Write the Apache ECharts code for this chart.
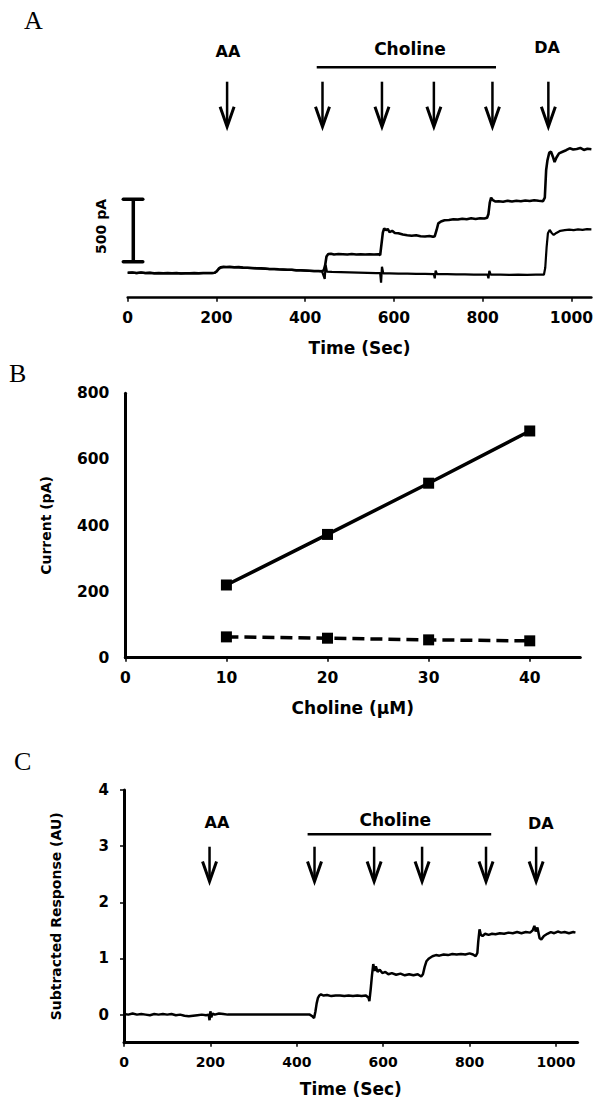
<!DOCTYPE html>
<html><head><meta charset="utf-8">
<script src="https://cdn.jsdelivr.net/npm/echarts@6/dist/echarts.min.js"></script>
<style>html,body{margin:0;padding:0;background:#fff}#c{width:596px;height:1100px}</style>
</head><body><div id="c"></div>
<script>
// ---------- Panel A: amperometric traces (time in s, current in pA above baseline)
const aCholineSite = [[0,0],[10,2],[20,-2],[30,1],[40,-3],[50,0],[60,-4],[70,-2],[80,-5],[90,-3],[100,-4],[110,-2],[120,-6],[130,-4],[140,-5],[150,-3],[160,-4],[170,-2],[180,-3],[190,-2],[196,-1],[200,10],[205,32],[210,44],[216,48],[222,46],[230,47],[240,44],[250,45],[260,41],[270,40],[280,38],[290,36],[300,35],[310,33],[320,30],[330,30],[340,27],[350,26],[360,24],[370,23],[380,20],[390,19],[400,18],[410,16],[420,14],[430,13],[438,12],[442,20],[445,60],[448,130],[452,150],[458,152],[465,146],[475,150],[485,148],[495,145],[505,149],[515,146],[525,147],[535,145],[545,147],[555,146],[565,148],[569,140],[572,230],[575,320],[578,355],[582,340],[586,350],[590,325],[596,335],[602,318],[610,315],[620,305],[630,300],[640,296],[650,300],[660,292],[670,290],[680,294],[688,287],[692,292],[696,340],[700,395],[706,410],[714,420],[724,422],[734,428],[744,425],[754,432],[764,428],[774,435],[784,430],[794,436],[804,433],[810,440],[813,470],[816,560],[819,600],[823,580],[828,570],[836,572],[846,568],[856,575],[866,570],[876,576],[886,572],[896,578],[906,574],[916,580],[926,575],[936,572],[940,600],[943,820],[946,900],[950,960],[954,968],[958,930],[962,885],[966,920],[972,955],[980,968],[988,980],[996,995],[1004,985],[1012,990],[1020,998],[1028,982],[1036,992],[1045,988]];
const aSentinel = [[0,-2],[10,0],[20,-3],[30,0],[40,-4],[50,-2],[60,-5],[70,-3],[80,-6],[90,-4],[100,-5],[110,-3],[120,-6],[130,-5],[140,-6],[150,-4],[160,-5],[170,-3],[180,-4],[190,-3],[196,-2],[200,8],[205,28],[210,40],[216,45],[222,44],[230,44],[240,42],[250,42],[260,39],[270,38],[280,36],[290,34],[300,33],[310,31],[320,29],[330,28],[340,26],[350,25],[360,23],[370,22],[380,19],[390,18],[400,17],[410,15],[420,13],[430,12],[438,10],[444,-50],[446,62],[449,8],[460,6],[480,4],[500,2],[520,0],[540,-2],[560,-4],[569,-4],[571,-80],[573,48],[576,-6],[590,-6],[610,-8],[630,-8],[650,-10],[670,-10],[690,-12],[692,-45],[694,16],[697,-12],[720,-12],[740,-14],[760,-14],[780,-15],[800,-16],[811,-16],[813,-45],[815,14],[818,-16],[840,-16],[860,-17],[880,-16],[900,-17],[920,-16],[938,-16],[941,40],[944,200],[947,315],[951,342],[955,320],[960,302],[966,318],[975,335],[985,340],[995,345],[1005,340],[1015,346],[1025,342],[1035,348],[1045,347]];
const aArrowTimes = [224, 439, 573, 690, 822, 948];
const aLabels = ['AA', 'Choline', 'DA'];
const aLabelTimes = [226, 636, 945];
const aCholineSpan = [426, 830];
const aScaleBar = 500; // pA
const timeTicks = [0, 200, 400, 600, 800, 1000];

// ---------- Panel B: calibration (choline in uM, current in pA)
const bConc = [10, 20, 30, 40];
const bCholineSite = [220, 373, 528, 686];
const bSentinel = [63, 59, 54, 51];
const bYTicks = [0, 200, 400, 600, 800];
const bXTicks = [0, 10, 20, 30, 40];

// ---------- Panel C: subtracted response (AU)
const cResponse = [[0,0.01],[10,0.0],[20,0.02],[30,0.0],[40,0.01],[50,0.0],[60,-0.01],[70,0.01],[80,0.0],[90,0.01],[100,0.0],[110,0.01],[120,-0.01],[130,0.0],[140,-0.02],[150,-0.03],[160,-0.02],[170,-0.01],[180,0.0],[190,-0.01],[196,0.0],[198,-0.1],[200,0.06],[202,-0.05],[205,0.02],[210,0.0],[220,0.02],[230,0.01],[240,0.0],[430,0.0],[436,-0.03],[440,-0.06],[443,0.05],[446,0.2],[449,0.3],[452,0.34],[456,0.36],[462,0.34],[470,0.35],[480,0.33],[490,0.34],[500,0.34],[510,0.33],[520,0.34],[530,0.33],[540,0.34],[550,0.33],[560,0.34],[566,0.3],[568,0.24],[571,0.45],[574,0.7],[577,0.9],[580,0.78],[583,0.86],[587,0.76],[592,0.8],[598,0.74],[605,0.76],[612,0.72],[620,0.74],[630,0.71],[640,0.73],[650,0.7],[660,0.72],[670,0.7],[680,0.72],[688,0.68],[692,0.72],[696,0.85],[700,0.95],[706,1.0],[714,1.04],[722,1.06],[730,1.05],[740,1.07],[750,1.06],[760,1.08],[770,1.07],[780,1.08],[790,1.07],[800,1.09],[808,1.07],[814,1.04],[818,1.1],[820,1.3],[823,1.52],[826,1.42],[830,1.4],[836,1.44],[844,1.42],[852,1.44],[860,1.43],[870,1.45],[880,1.44],[890,1.46],[900,1.45],[910,1.47],[920,1.45],[930,1.47],[940,1.46],[946,1.5],[950,1.58],[953,1.48],[957,1.55],[962,1.36],[966,1.34],[972,1.4],[980,1.44],[988,1.47],[996,1.45],[1004,1.48],[1012,1.46],[1020,1.47],[1030,1.45],[1040,1.47],[1045,1.46]];
const cArrowTimes = [198, 441, 579, 690, 838, 954];
const cLabels = ['AA', 'Choline', 'DA'];
const cLabelTimes = [215, 628, 965];
const cCholineSpan = [425, 850];
const cYTicks = [0, 1, 2, 3, 4];

// ---------- layout / style
const SANS = '"DejaVu Sans", sans-serif';
const SERIF = '"Liberation Serif", "Times New Roman", serif';
const BLACK = '#000';
const layoutA = {arrowTop: 1528, arrowTip: 1168, labelY: [1768, 1790, 1800], barY: 1643, scaleT: 12.6, scaleLow: 88};
const layoutC = {arrowTop: 2.99, arrowTip: 2.37, labelY: [3.43, 3.47, 3.41], barY: 3.21};

function arrowSeries(gi, times, top, tip) {
  return {
    type: 'custom', xAxisIndex: gi, yAxisIndex: gi, silent: true, clip: false,
    data: times.map(t => [t]),
    renderItem: function (params, api) {
      const t = api.value(0);
      const p0 = api.coord([t, top]);
      const p1 = api.coord([t, tip]);
      return {type: 'group', children: [
        {type: 'line', shape: {x1: p0[0], y1: p0[1], x2: p1[0], y2: p1[1] - 2}, style: {stroke: BLACK, lineWidth: 2.5}},
        {type: 'polyline', shape: {points: [[p1[0] - 7, p1[1] - 20], [p1[0], p1[1]], [p1[0] + 7, p1[1] - 20]]},
          style: {stroke: BLACK, lineWidth: 3, fill: null, lineJoin: 'miter'}}
      ]};
    }
  };
}
function labelSeries(gi, names, times, ys, sizes) {
  return {
    type: 'custom', xAxisIndex: gi, yAxisIndex: gi, silent: true, clip: false,
    data: times.map((t, i) => [t, ys[i]]),
    renderItem: function (params, api) {
      const p = api.coord([api.value(0), api.value(1)]);
      const i = params.dataIndex;
      return {type: 'text', x: p[0], y: p[1], style: {text: names[i], fill: BLACK,
        font: 'bold ' + sizes[i] + 'px ' + SANS, align: 'center', verticalAlign: 'middle'}};
    }
  };
}
function barSeries(gi, span, y) {
  return {type: 'line', xAxisIndex: gi, yAxisIndex: gi, silent: true, symbol: 'none',
    data: [[span[0], y], [span[1], y]], lineStyle: {color: BLACK, width: 2.5}};
}
function xAxisCfg(gi, max, interval, name, nameGap, labelSize, axisW) {
  return {
    gridIndex: gi, type: 'value', min: 0, max: max, interval: interval,
    name: name, nameLocation: 'middle', nameGap: nameGap,
    nameTextStyle: {fontFamily: SANS, fontWeight: 'bold', fontSize: 17, color: BLACK},
    axisLine: {show: true, onZero: false, lineStyle: {color: BLACK, width: axisW}},
    axisTick: {show: true, length: 4, lineStyle: {color: BLACK, width: 1.5}},
    axisLabel: {show: true, margin: 12, fontFamily: SANS, fontWeight: 'bold', fontSize: labelSize, color: BLACK,
      showMaxLabel: false, formatter: v => String(v)},
    splitLine: {show: false}
  };
}

const chart = echarts.init(document.getElementById('c'), null, {renderer: 'svg', width: 596, height: 1100});
chart.setOption({
  animation: false,
  backgroundColor: '#fff',
  title: [
    {text: 'A', left: 24, top: 7, padding: 0, textStyle: {fontFamily: SERIF, fontSize: 26, fontWeight: 'normal', color: BLACK}},
    {text: 'B', left: 9, top: 360, padding: 0, textStyle: {fontFamily: SERIF, fontSize: 26, fontWeight: 'normal', color: BLACK}},
    {text: 'C', left: 14, top: 748, padding: 0, textStyle: {fontFamily: SERIF, fontSize: 26, fontWeight: 'normal', color: BLACK}}
  ],
  grid: [
    {left: 127.7, right: 2.3, top: 22.7, height: 275},
    {left: 125.3, right: 15.7, top: 393.3, height: 264.4},
    {left: 124, right: 18.4, top: 790, height: 252.7}
  ],
  xAxis: [
    xAxisCfg(0, 1045, 200, 'Time (Sec)', 42, 15.5, 2.5),
    xAxisCfg(1, 45, 10, 'Choline (\u00b5M)', 42, 15.5, 3),
    xAxisCfg(2, 1050, 200, 'Time (Sec)', 38, 14, 3)
  ],
  yAxis: [
    {gridIndex: 0, type: 'value', min: -200, max: 2000, show: false, splitLine: {show: false}},
    {gridIndex: 1, type: 'value', min: 0, max: 800, interval: 200,
      name: 'Current (pA)', nameLocation: 'middle', nameGap: 72, nameRotate: 90,
      nameTextStyle: {fontFamily: SANS, fontWeight: 'bold', fontSize: 14, color: BLACK},
      axisLine: {show: true, onZero: false, lineStyle: {color: BLACK, width: 3}},
      axisTick: {show: false},
      axisLabel: {margin: 16, fontFamily: SANS, fontWeight: 'bold', fontSize: 15.5, color: BLACK},
      splitLine: {show: false}},
    {gridIndex: 2, type: 'value', min: -0.5, max: 4,
      name: 'Subtracted Response (AU)', nameLocation: 'middle', nameGap: 61, nameRotate: 90,
      nameTextStyle: {fontFamily: SANS, fontWeight: 'bold', fontSize: 14, color: BLACK},
      axisLine: {show: true, onZero: false, lineStyle: {color: BLACK, width: 3}},
      axisTick: {show: true, length: 4, lineStyle: {color: BLACK, width: 1.5}},
      axisLabel: {margin: 15, fontFamily: SANS, fontWeight: 'bold', fontSize: 15, color: BLACK, showMinLabel: false,
        formatter: v => (cYTicks.indexOf(v) >= 0 ? String(v) : '')},
      splitLine: {show: false}}
  ],
  series: [
    {name: 'Choline site', type: 'line', xAxisIndex: 0, yAxisIndex: 0, data: aCholineSite, showSymbol: false, symbol: 'none',
      lineStyle: {color: BLACK, width: 2.6}},
    {name: 'Sentinel', type: 'line', xAxisIndex: 0, yAxisIndex: 0, data: aSentinel, showSymbol: false, symbol: 'none',
      lineStyle: {color: BLACK, width: 2.2}},
    arrowSeries(0, aArrowTimes, layoutA.arrowTop, layoutA.arrowTip),
    labelSeries(0, aLabels, aLabelTimes, layoutA.labelY, [16, 17, 16]),
    barSeries(0, aCholineSpan, layoutA.barY),
    {type: 'custom', xAxisIndex: 0, yAxisIndex: 0, silent: true, clip: false,
      data: [[layoutA.scaleT, layoutA.scaleLow, layoutA.scaleLow + aScaleBar]],
      renderItem: function (params, api) {
        const lo = api.coord([api.value(0), api.value(1)]);
        const hi = api.coord([api.value(0), api.value(2)]);
        const x = lo[0];
        return {type: 'group', children: [
          {type: 'line', shape: {x1: x, y1: lo[1], x2: x, y2: hi[1]}, style: {stroke: BLACK, lineWidth: 3.5}},
          {type: 'line', shape: {x1: x - 10, y1: lo[1], x2: x + 9.5, y2: lo[1]}, style: {stroke: BLACK, lineWidth: 3.5, lineCap: 'round'}},
          {type: 'line', shape: {x1: x - 10, y1: hi[1], x2: x + 9.5, y2: hi[1]}, style: {stroke: BLACK, lineWidth: 3.5, lineCap: 'round'}},
          {type: 'text', x: x - 32, y: (lo[1] + hi[1]) / 2 - 4, rotation: Math.PI / 2,
            style: {text: aScaleBar + ' pA', fill: BLACK, font: 'bold 14px ' + SANS, align: 'center', verticalAlign: 'middle'}}
        ]};
      }},
    {name: 'Choline site', type: 'line', xAxisIndex: 1, yAxisIndex: 1, data: bConc.map((c, i) => [c, bCholineSite[i]]),
      symbol: 'rect', symbolSize: 11, itemStyle: {color: BLACK}, lineStyle: {color: BLACK, width: 3.5}},
    {name: 'Sentinel', type: 'line', xAxisIndex: 1, yAxisIndex: 1, data: bConc.map((c, i) => [c, bSentinel[i]]),
      symbol: 'rect', symbolSize: 11, itemStyle: {color: BLACK}, lineStyle: {color: BLACK, width: 3.5, type: [12, 6]}},
    {name: 'Subtracted', type: 'line', xAxisIndex: 2, yAxisIndex: 2, data: cResponse, showSymbol: false, symbol: 'none',
      lineStyle: {color: BLACK, width: 2.5}},
    arrowSeries(2, cArrowTimes, layoutC.arrowTop, layoutC.arrowTip),
    labelSeries(2, cLabels, cLabelTimes, layoutC.labelY, [16, 17, 16]),
    barSeries(2, cCholineSpan, layoutC.barY)
  ]
});
</script>
</body></html>
